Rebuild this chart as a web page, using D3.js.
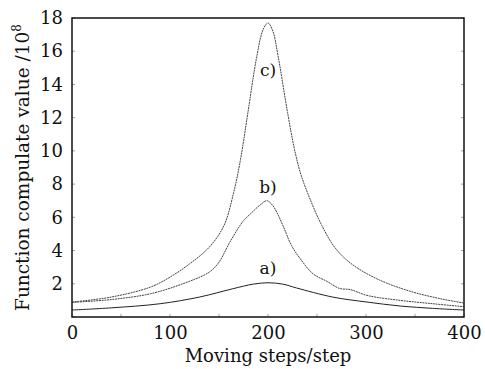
<!DOCTYPE html>
<html>
<head>
<meta charset="utf-8">
<script src="https://cdn.jsdelivr.net/npm/d3@7"></script>
<style>
  body { margin: 0; background: #fff; }
  svg text { font-family: "DejaVu Serif", "Liberation Serif", serif; fill: #111; }
</style>
</head>
<body>
<div id="plot"></div>
<script>
// values (x = moving step, y = value / 1e8)
const stepsA = [0, 40, 90, 130, 164, 185, 200, 215, 229, 266, 301, 335, 368, 400];
const valsA  = [0.42, 0.55, 0.8, 1.2, 1.7, 1.98, 2.06, 1.98, 1.75, 1.2, 0.9, 0.66, 0.52, 0.42];

const stepsB = [0, 40, 80, 113, 140, 150, 161, 175, 182, 192, 199, 205, 209, 216, 224, 233, 246, 260, 273, 284, 301, 335, 368, 400];
const valsB  = [0.88, 1.05, 1.4, 2.0, 2.7, 3.3, 4.5, 5.8, 6.2, 6.75, 7.0, 6.7, 6.3, 5.4, 4.3, 3.5, 2.6, 2.15, 1.72, 1.65, 1.3, 1.0, 0.8, 0.62];

const stepsC = [0, 40, 80, 100, 120, 140, 155, 165, 172, 180, 188, 195, 200, 205, 210, 220, 227, 234, 245, 255, 268, 284, 311, 345, 376, 400];
const valsC  = [0.9, 1.2, 1.8, 2.4, 3.2, 4.2, 5.5, 7.5, 9.5, 12.5, 15.5, 17.3, 17.7, 17.2, 15.8, 12.3, 10.1, 8.5, 6.8, 5.5, 4.2, 3.25, 2.3, 1.55, 1.1, 0.84];

const xTicks = [0, 100, 200, 300, 400];
const yTicks = [2, 4, 6, 8, 10, 12, 14, 16, 18];
const curveLabels = ["a)", "b)", "c)"];
const labelAt = [[200, 2.6], [200, 7.47], [200, 14.5]];

const margin = {top: 18, right: 21, bottom: 52, left: 72};
const width = 485 - margin.left - margin.right;
const height = 369 - margin.top - margin.bottom;

const svg = d3.select("#plot")
    .append("svg")
    .attr("width", 485)
    .attr("height", 369);

const plot = svg.append("g")
    .attr("transform", "translate(" + margin.left + "," + margin.top + ")");

const x = d3.scaleLinear().domain([0, 400]).range([0, width]);
const y = d3.scaleLinear().domain([0, 18]).range([height, 0]);

// small inward ticks, faint
const minorX = d3.range(0, 401, 50);
const minorY = d3.range(0, 19, 2);
plot.selectAll(".tx").data(minorX).enter().append("line")
    .attr("x1", d => x(d)).attr("x2", d => x(d))
    .attr("y1", height).attr("y2", height - 3)
    .attr("stroke", "#888").attr("stroke-width", 0.8);
plot.selectAll(".tyl").data(minorY).enter().append("line")
    .attr("x1", 0).attr("x2", 3)
    .attr("y1", d => y(d)).attr("y2", d => y(d))
    .attr("stroke", "#888").attr("stroke-width", 0.8);
plot.selectAll(".tyr").data(minorY).enter().append("line")
    .attr("x1", width).attr("x2", width - 3)
    .attr("y1", d => y(d)).attr("y2", d => y(d))
    .attr("stroke", "#888").attr("stroke-width", 0.8);

// axes: labels only, the frame is drawn below
const bottomAxis = d3.axisBottom(x).tickValues(xTicks).tickSize(0).tickPadding(9);
plot.append("g")
    .attr("transform", "translate(0," + height + ")")
    .style("font-size", "18px")
    .call(bottomAxis)
    .call(g => g.select(".domain").remove());

const leftAxis = d3.axisLeft(y).tickValues(yTicks).tickSize(0).tickPadding(9);
plot.append("g")
    .style("font-size", "18px")
    .call(leftAxis)
    .call(g => g.select(".domain").remove());

svg.selectAll(".tick text").attr("fill", "#111").style("font-family", "DejaVu Serif, serif");

const line = d3.line()
    .x(d => x(d[0]))
    .y(d => y(d[1]))
    .curve(d3.curveCatmullRom.alpha(0.5));

const series = [
  d3.zip(stepsA, valsA),
  d3.zip(stepsB, valsB),
  d3.zip(stepsC, valsC)
];

plot.selectAll(".curve")
    .data(series)
    .enter()
    .append("path")
    .attr("d", line)
    .attr("fill", "none")
    .attr("stroke", (d, i) => i === 0 ? "#222" : "#444")
    .attr("stroke-width", 1)
    .attr("stroke-dasharray", (d, i) => i === 0 ? null : "2,0.7");

plot.selectAll(".clabel")
    .data(curveLabels)
    .enter()
    .append("text")
    .attr("x", (d, i) => x(labelAt[i][0]))
    .attr("y", (d, i) => y(labelAt[i][1]))
    .attr("text-anchor", "middle")
    .style("font-size", "17px")
    .text(d => d);

// frame
plot.append("rect")
    .attr("width", width)
    .attr("height", height)
    .attr("fill", "none")
    .attr("stroke", "#111")
    .attr("stroke-width", 1.5);

svg.append("text")
    .attr("x", margin.left + width / 2)
    .attr("y", 362)
    .attr("text-anchor", "middle")
    .style("font-size", "18px")
    .text("Moving steps/step");

const ylab = svg.append("text")
    .attr("transform", "translate(29," + (margin.top + height / 2) + ") rotate(-90)")
    .attr("text-anchor", "middle")
    .style("font-size", "18.5px");
ylab.append("tspan").text("Function compulate value /10");
ylab.append("tspan").attr("dy", -8).style("font-size", "12px").text("8");
</script>
</body>
</html>
